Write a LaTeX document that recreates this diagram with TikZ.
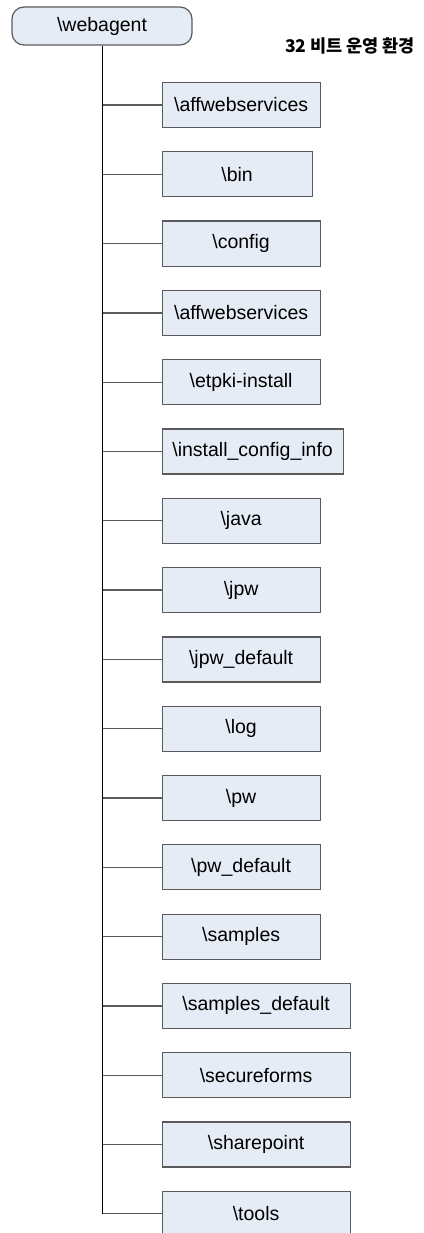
\documentclass[tikz,border=0pt]{standalone}
\usepackage{fontspec}
\setmainfont{Liberation Sans}
\newfontfamily\korfont{Noto Sans CJK KR}
\usepackage{tikz}
\definecolor{dirfill}{HTML}{E6ECF6}
\definecolor{dirline}{HTML}{5A5A5A}
\tikzstyle{dirbox} = [draw=dirline, line width=1.2pt, fill=dirfill, anchor=west,
	minimum height=45pt, inner sep=0pt, font=\fontsize{19.5}{22}\selectfont]

\begin{document}
\begin{tikzpicture}[x=1pt,y=-1pt]
	\useasboundingbox (0,0) rectangle (423,1233);
	\node [dirbox, rounded corners=12pt, anchor=center, minimum width=180pt, minimum height=38pt] (root) at (102,26) {\textbackslash webagent};
	\node [font=\korfont\bfseries\fontsize{17.5}{20}\selectfont] (title) at (350,46) {32 비트 운영 환경};
	\foreach \i/\lbl/\w in {0/affwebservices/158, 1/bin/150, 2/config/158,
		3/affwebservices/158, 4/etpki-install/158, 5/install\_config\_info/181,
		6/java/158, 7/jpw/158, 8/jpw\_default/158, 9/log/158, 10/pw/158,
		11/pw\_default/158, 12/samples/158, 13/samples\_default/188,
		14/secureforms/188, 15/sharepoint/188, 16/tools/188}
	{
		\node [dirbox, minimum width=\w pt] (dir\i) at (161.5,105+69.3*\i) {\textbackslash\lbl};
		\draw [dirline, line width=1.3pt] (root.south |- dir\i.west) -- (dir\i.west);
	}
	\draw [black, line width=1pt] (root.south) -- (root.south |- dir16.west);
\end{tikzpicture}
\end{document}
